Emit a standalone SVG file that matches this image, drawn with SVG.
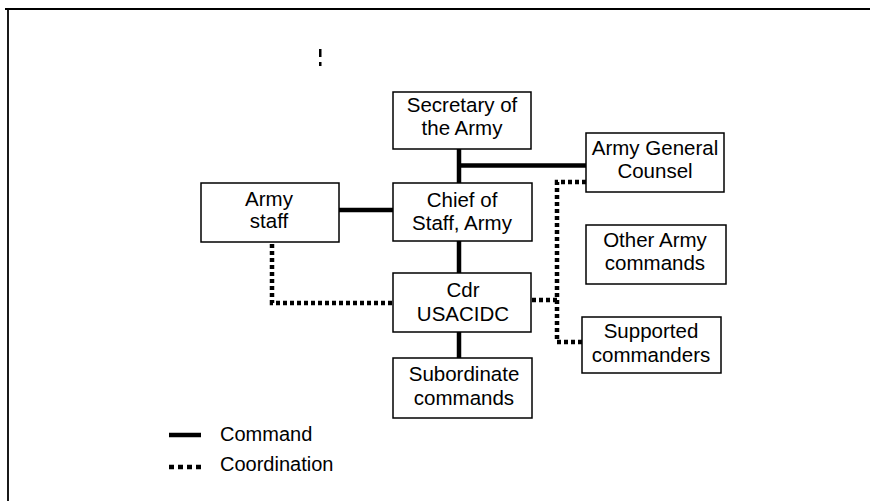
<svg xmlns="http://www.w3.org/2000/svg" width="870" height="501" viewBox="0 0 870 501">
<style>
.box{fill:#fff;stroke:#000;stroke-width:1.5}
.t{font-family:"Liberation Sans",Arial,sans-serif;font-size:20.5px;fill:#000;text-anchor:middle}
.lg{font-family:"Liberation Sans",Arial,sans-serif;font-size:20px;fill:#000}
.cmd{stroke:#000;stroke-width:4.5;fill:none}
.crd{stroke:#000;stroke-width:4.5;fill:none;stroke-dasharray:4 3}
</style>
<rect width="870" height="501" fill="#fff"/>
<g id="frame">
<line x1="5" y1="9" x2="870" y2="9" stroke="#000" stroke-width="2"/>
<line x1="8" y1="9" x2="8" y2="501" stroke="#000" stroke-width="1.8"/>
<rect x="319" y="49" width="2.5" height="8" fill="#000"/>
<rect x="319" y="62" width="2.5" height="4" fill="#000"/>
</g>
<g id="connectors">
<line class="cmd" x1="459" y1="149" x2="459" y2="183"/>
<line class="cmd" x1="459" y1="165.5" x2="586" y2="165.5"/>
<line class="cmd" x1="339" y1="210" x2="393" y2="210"/>
<line class="cmd" x1="459" y1="241" x2="459" y2="273"/>
<line class="cmd" x1="459" y1="332" x2="459" y2="358"/>
<polyline class="crd" points="272,244 272,303 393,303"/>
<polyline class="crd" points="586,182 557,182 557,342 582,342"/>
<line class="crd" x1="532" y1="300" x2="557" y2="300"/>
</g>
<g id="secretary">
<rect class="box" x="393" y="92" width="138" height="57"/>
<text class="t" x="462" y="112">Secretary of</text>
<text class="t" x="462" y="135">the Army</text>
</g>
<g id="chief">
<rect class="box" x="393" y="183" width="139" height="58"/>
<text class="t" x="462" y="207">Chief of</text>
<text class="t" x="462" y="230">Staff, Army</text>
</g>
<g id="armystaff">
<rect class="box" x="201" y="183" width="138" height="59"/>
<text class="t" x="269" y="206">Army</text>
<text class="t" x="269" y="228">staff</text>
</g>
<g id="counsel">
<rect class="box" x="586" y="133" width="138" height="59"/>
<text class="t" x="655" y="155">Army General</text>
<text class="t" x="655" y="178">Counsel</text>
</g>
<g id="other">
<rect class="box" x="586" y="225" width="140" height="59"/>
<text class="t" x="655" y="247">Other Army</text>
<text class="t" x="655" y="270">commands</text>
</g>
<g id="cdr">
<rect class="box" x="393" y="273" width="138" height="59"/>
<text class="t" x="463" y="297">Cdr</text>
<text class="t" x="463" y="321">USACIDC</text>
</g>
<g id="supported">
<rect class="box" x="582" y="317" width="139" height="56"/>
<text class="t" x="651" y="338">Supported</text>
<text class="t" x="651" y="362">commanders</text>
</g>
<g id="subordinate">
<rect class="box" x="393" y="358" width="139" height="60"/>
<text class="t" x="464" y="381">Subordinate</text>
<text class="t" x="464" y="405">commands</text>
</g>
<g id="legend">
<line class="cmd" x1="169" y1="435" x2="201" y2="435"/>
<line class="crd" x1="169" y1="467" x2="201" y2="467" style="stroke-dasharray:5 4"/>
<text class="lg" x="220" y="441">Command</text>
<text class="lg" x="220" y="471">Coordination</text>
</g>
</svg>
